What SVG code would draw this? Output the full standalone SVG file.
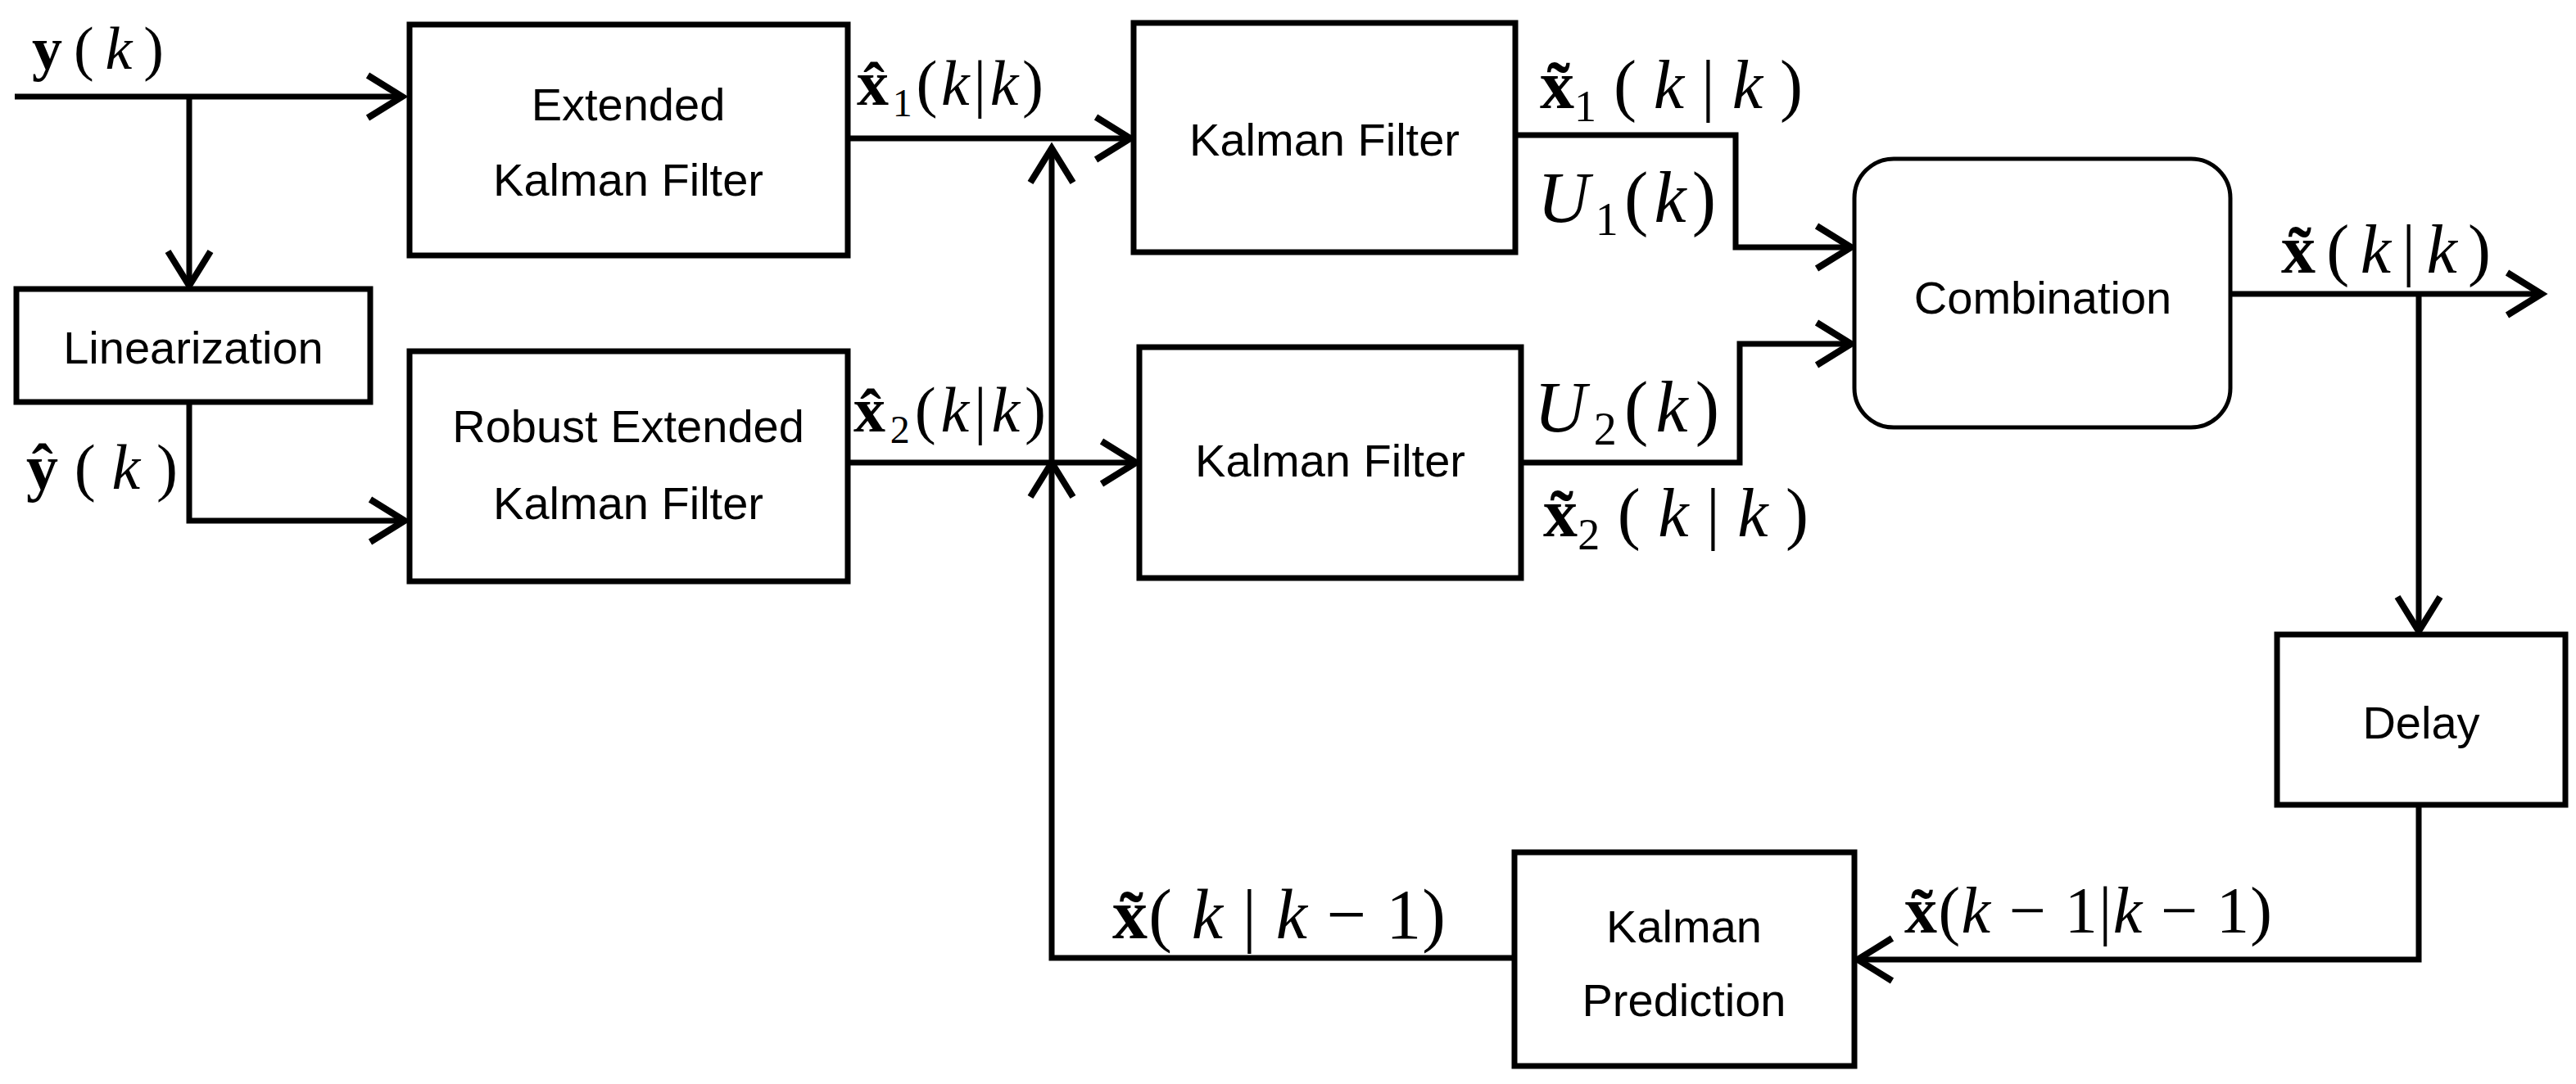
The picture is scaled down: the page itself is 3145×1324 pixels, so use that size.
<svg xmlns="http://www.w3.org/2000/svg" width="3145" height="1324" viewBox="0 0 3145 1324">
<style>
.box{fill:#fff;stroke:#000;stroke-width:7}
.lbl{font-family:"Liberation Sans",Arial,sans-serif;font-size:56px;text-anchor:middle;fill:#000}
.m{font-family:"Liberation Serif","Times New Roman",serif;fill:#000}
.c{fill:none;stroke:#000;stroke-width:7}
.b{font-weight:bold}
.i{font-style:italic}
</style>
<defs>
<marker id="arr" markerUnits="userSpaceOnUse" viewBox="-50 -32 56 64" refX="0" refY="0" markerWidth="56" markerHeight="64" orient="auto" overflow="visible">
<path d="M-42,-26 L0,0 L-42,26" fill="none" stroke="#000" stroke-width="8"/>
</marker>
</defs>
<rect width="3145" height="1324" fill="#fff"/>

<g id="connectors">
<path class="c" d="M18,118 H491" marker-end="url(#arr)"/>
<path class="c" d="M231,118 V349" marker-end="url(#arr)"/>
<path class="c" d="M231,491 V636 H494" marker-end="url(#arr)"/>
<path class="c" d="M1035,169 H1380" marker-end="url(#arr)"/>
<path class="c" d="M1035,565 H1387" marker-end="url(#arr)"/>
<path class="c" d="M2264,1170 H1284 V565" marker-end="url(#arr)"/>
<path class="c" d="M1284,565 V181" marker-end="url(#arr)"/>
<path class="c" d="M1850,165 H2119 V302 H2260" marker-end="url(#arr)"/>
<path class="c" d="M1857,565 H2124 V420 H2260" marker-end="url(#arr)"/>
<path class="c" d="M2723,359 H3103" marker-end="url(#arr)"/>
<path class="c" d="M2953,359 V771" marker-end="url(#arr)"/>
<path class="c" d="M2953,983 V1172 H2268" marker-end="url(#arr)"/>
</g>

<g id="ekf">
<rect class="box" x="500" y="30" width="535" height="282"/>
<text class="lbl" x="767" y="147">Extended</text>
<text class="lbl" x="767" y="239">Kalman Filter</text>
</g>
<g id="rekf">
<rect class="box" x="500" y="429" width="535" height="281"/>
<text class="lbl" x="767" y="540">Robust Extended</text>
<text class="lbl" x="767" y="634">Kalman Filter</text>
</g>
<g id="linearization">
<rect class="box" x="20" y="353" width="432" height="138"/>
<text class="lbl" x="236" y="444">Linearization</text>
</g>
<g id="kf1">
<rect class="box" x="1384" y="28" width="466" height="280"/>
<text class="lbl" x="1617" y="190">Kalman Filter</text>
</g>
<g id="kf2">
<rect class="box" x="1391" y="424" width="466" height="282"/>
<text class="lbl" x="1624" y="582">Kalman Filter</text>
</g>
<g id="combination">
<rect class="box" x="2264" y="194" width="459" height="328" rx="48" ry="48" style="stroke-width:5"/>
<text class="lbl" x="2494" y="383">Combination</text>
</g>
<g id="delay">
<rect class="box" x="2780" y="775" width="352" height="208"/>
<text class="lbl" x="2956" y="902">Delay</text>
</g>
<g id="prediction">
<rect class="box" x="1849" y="1041" width="415" height="261"/>
<text class="lbl" x="2056" y="1151">Kalman</text>
<text class="lbl" x="2056" y="1241">Prediction</text>
</g>

<g id="labels">
<text class="m" x="39" y="84" font-size="74" textLength="161" lengthAdjust="spacing"><tspan class="b">y</tspan> ( <tspan class="i">k</tspan> )</text>

<text class="m" x="32" y="597" font-size="78" textLength="185" lengthAdjust="spacing"><tspan class="b">ŷ</tspan> ( <tspan class="i">k</tspan> )</text>

<text class="m" x="1046" y="128" font-size="78" textLength="228" lengthAdjust="spacing"><tspan class="b">x̂</tspan><tspan font-size="48" dy="14">1</tspan><tspan dy="-14">(</tspan><tspan class="i">k</tspan>|<tspan class="i">k</tspan>)</text>

<text class="m" x="1042" y="527" font-size="78" textLength="235" lengthAdjust="spacing"><tspan class="b">x̂</tspan><tspan font-size="48" dy="14">2</tspan><tspan dy="-14">(</tspan><tspan class="i">k</tspan>|<tspan class="i">k</tspan>)</text>

<text class="m" x="1880" y="132" font-size="84" textLength="321" lengthAdjust="spacing"><tspan class="b">x̃</tspan><tspan font-size="54" dy="16">1</tspan><tspan dy="-16"> ( </tspan><tspan class="i">k</tspan> | <tspan class="i">k</tspan> )</text>

<text class="m" x="1877" y="271" font-size="88" textLength="218" lengthAdjust="spacing"><tspan class="i">U</tspan><tspan font-size="56" dy="16">1</tspan><tspan dy="-16">(</tspan><tspan class="i">k</tspan>)</text>

<text class="m" x="1873" y="527" font-size="88" textLength="226" lengthAdjust="spacing"><tspan class="i">U</tspan><tspan font-size="56" dy="16">2</tspan><tspan dy="-16">(</tspan><tspan class="i">k</tspan>)</text>

<text class="m" x="1884" y="655" font-size="84" textLength="324" lengthAdjust="spacing"><tspan class="b">x̃</tspan><tspan font-size="54" dy="16">2</tspan><tspan dy="-16"> ( </tspan><tspan class="i">k</tspan> | <tspan class="i">k</tspan> )</text>

<text class="m" x="2785" y="333" font-size="84" textLength="256" lengthAdjust="spacing"><tspan class="b">x̃</tspan>(<tspan class="i">k</tspan>|<tspan class="i">k</tspan>)</text>

<text class="m" x="1358" y="1146" font-size="86" textLength="407" lengthAdjust="spacing"><tspan class="b">x̃</tspan>( <tspan class="i">k</tspan> | <tspan class="i">k</tspan> − 1)</text>

<text class="m" x="2325" y="1139" font-size="80" textLength="449" lengthAdjust="spacing"><tspan class="b">x̃</tspan>(<tspan class="i">k</tspan> − 1|<tspan class="i">k</tspan> − 1)</text>
</g>
</svg>
